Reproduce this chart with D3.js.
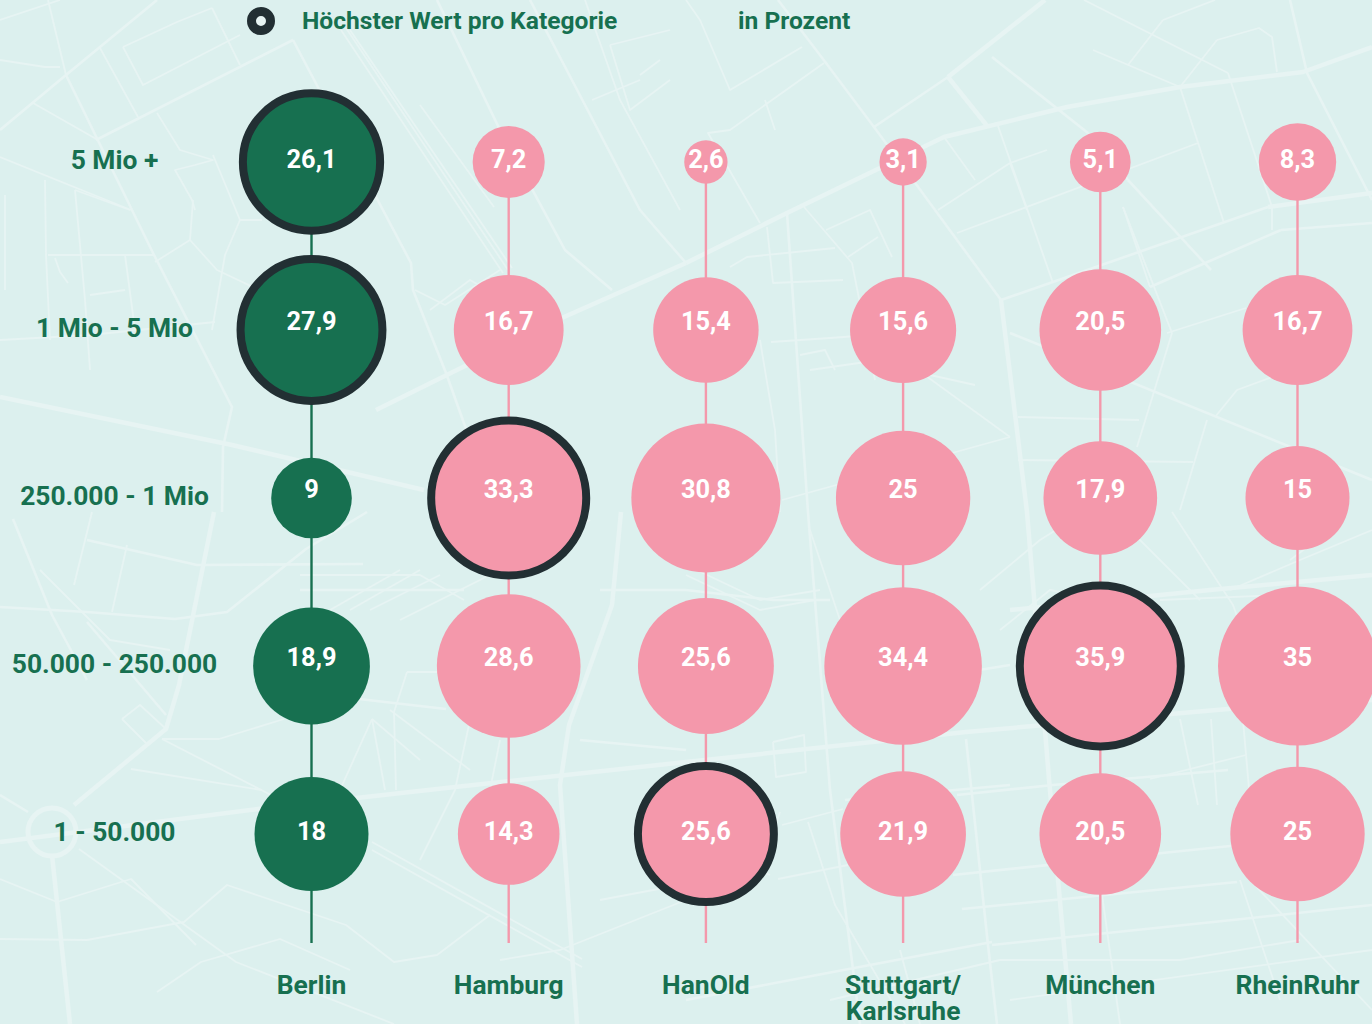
<!DOCTYPE html>
<html lang="de">
<head>
<meta charset="utf-8">
<script src="https://cdn.jsdelivr.net/npm/d3@7"></script>
<style>
html,body{margin:0;padding:0;background:#dcf0ee;overflow:hidden}
svg{display:block}
text{font-family:Roboto,sans-serif;font-weight:700}
</style>
</head>
<body>
<svg id="chart" width="1372" height="1024"></svg>
<script>
const rowLabels = ["5 Mio +","1 Mio - 5 Mio","250.000 - 1 Mio","50.000 - 250.000","1 - 50.000"];
const cities = ["Berlin","Hamburg","HanOld","Stuttgart/\nKarlsruhe","München","RheinRuhr"];
const berlin = [26.1,27.9,9,18.9,18];
const hamburg = [7.2,16.7,33.3,28.6,14.3];
const hanold = [2.6,15.4,30.8,25.6,25.6];
const stuttgart = [3.1,15.6,25,34.4,21.9];
const muenchen = [5.1,20.5,17.9,35.9,20.5];
const rheinruhr = [8.3,16.7,15,35,25];
const series = [berlin,hamburg,hanold,stuttgart,muenchen,rheinruhr];
const valueLabelOffset = [-3,-9,-9,-9,-3];

// decorative street map backdrop
const thickRoads = [
 [[0,397],[232,445],[424,490]],
 [[686,263],[787,213],[944,137],[1067,107],[1180,87],[1303,72],[1372,47]],
 [[948,77],[988,127]],[[1045,0],[948,77]],
 [[1001,300],[1027,512],[1049,779],[1071,1024]],
 [[0,842],[258,809],[437,789],[686,762],[966,732],[1228,709],[1372,700]],
 [[74,805],[166,729],[179,685],[214,512]],
 [[52,855],[70,1024]],
 [[577,1024],[560,785],[569,725],[612,605],[621,512]],
 [[1268,207],[1372,193]],
 [[686,263],[564,317],[376,410]],
 [[1010,610],[1210,590],[1372,575]]
];
const mediumRoads = [
 [[0,130],[66,75],[157,0]],
 [[66,75],[153,253],[232,407],[223,447],[222,512]],
 [[293,40],[96,140]],
 [[874,127],[948,77]],
 [[1001,300],[1268,207]],
 [[787,213],[808,512],[830,790],[860,1024]],
 [[1290,0],[1307,73],[1372,200]],
 [[855,690],[1010,665]],
 [[845,800],[1010,785]],
 [[293,40],[411,263],[413,290],[446,373],[470,440]],
 [[778,0],[826,63],[874,127],[913,180],[1001,300]],
 [[992,57],[1088,133]],[[1128,180],[1211,270]],[[1088,133],[1128,180]],
 [[437,0],[500,130],[565,250],[612,290]],
 [[530,0],[640,210],[686,263]],
 [[0,607],[87,612],[175,619],[227,612],[306,549],[367,512]],
 [[87,540],[197,565],[363,564]],
 [[1281,230],[1372,223]],[[1281,230],[1150,287]],
 [[1010,333],[1372,480]],
 [[966,739],[988,945],[997,1024]],
 [[957,795],[1053,785],[1228,770]],
 [[953,875],[1172,852],[1240,845]],
 [[962,909],[1237,882]],
 [[992,945],[1242,919],[1372,905]],
 [[817,975],[992,942]],
 [[686,1000],[817,975]],
 [[0,795],[28,812]],[[13,519],[52,615],[87,680]],
 [[87,622],[166,715]],
 [[359,699],[446,709]],[[580,740],[686,750]],
 [[300,590],[464,590]],[[686,590],[773,600],[830,600]],[[600,590],[686,590]]
];
const thinRoads = [
 [[48,0],[66,75]],[[0,157],[131,210]],[[0,60],[45,67],[60,67]],[[33,103],[98,140]],
 [[100,48],[138,117]],[[0,20],[60,0]],
 [[123,47],[177,22],[212,8]],[[123,47],[143,85],[240,35]],[[212,8],[240,65]],
 [[157,113],[180,150],[213,160],[195,165],[175,170],[192,200],[195,210]],
 [[213,155],[240,220],[262,220]],[[193,200],[190,240],[155,262]],
 [[190,240],[217,270],[270,295]],[[240,220],[225,255],[212,330]],
 [[45,180],[46,255],[50,340]],[[75,190],[85,300],[90,370]],[[48,255],[155,255]],
 [[125,255],[135,330]],[[90,295],[125,290]],[[0,340],[90,335],[215,322]],
 [[5,195],[5,290]],[[75,190],[130,210]],[[55,258],[60,272],[68,283]],
 [[420,105],[494,207]],[[341,30],[503,273]],[[346,28],[508,270]],
 [[350,30],[512,268]],
 [[500,270],[445,305],[415,290]],[[430,310],[470,280],[505,300]],
 [[585,0],[620,100],[680,210]],[[610,45],[670,30]],[[610,45],[630,110],[670,80]],
 [[592,100],[640,80]],[[640,75],[660,60]],
 [[802,47],[730,90],[700,20],[686,0]],[[824,63],[730,130],[708,133],[760,223]],
 [[765,100],[775,130]],
 [[957,233],[1198,143]],[[938,210],[1010,163],[1047,150]],
 [[997,123],[1053,283]],[[944,137],[975,180]],[[1027,210],[1010,163]],
 [[1180,87],[1224,223]],[[1228,73],[1272,207],[1272,230]],[[1084,0],[1228,73]],
 [[1163,20],[1215,0]],[[1163,20],[1128,65]],[[1093,50],[1180,87]],
 [[1217,40],[1180,87]],[[1217,40],[1259,28],[1272,37],[1277,72]],
 [[1309,70],[1372,47]],[[1150,287],[1123,207]],[[1172,333],[1137,447]],
 [[1123,207],[1172,333]],
 [[767,227],[773,283],[843,280]],[[730,267],[747,257],[835,248]],
 [[804,207],[852,263],[875,380]],[[826,230],[870,210],[892,257]],[[848,257],[878,237]],
 [[1167,333],[1246,308]],[[1018,417],[1139,420]],[[1018,460],[1193,462]],
 [[1207,420],[1180,510]],[[1215,417],[1237,390],[1272,377]],
 [[922,373],[1010,437]],[[782,500],[1010,437]],
 [[760,340],[775,430],[780,512]],[[771,342],[830,338],[870,335]],
 [[800,355],[825,350],[835,370]],[[810,370],[880,360],[930,375],[975,385]],
 [[92,512],[74,585]],[[127,545],[112,612]],[[122,719],[140,705],[166,729],[148,745],[122,719]],
 [[162,739],[219,739],[284,719]],[[162,739],[271,795]],[[131,769],[262,790]],
 [[407,672],[446,672]],[[407,672],[394,712],[396,790]],
 [[372,719],[340,790]],[[372,719],[385,790]],[[372,719],[420,760]],[[390,710],[470,770]],
 [[372,842],[582,959]],[[372,850],[582,967]],
 [[0,939],[87,940],[184,922],[227,885],[346,925],[394,962],[437,955],[490,915]],
 [[157,992],[201,962],[280,939],[350,970]],
 [[0,879],[57,902],[131,879],[196,945]],[[79,849],[236,962],[394,1024]],
 [[470,720],[455,790],[420,860]],[[500,740],[480,840]],[[400,620],[480,580],[590,520]],
 [[40,570],[110,640],[170,650]],[[500,960],[560,950],[686,900]],
 [[600,900],[760,870],[780,812]],[[686,840],[770,875]],
 [[778,879],[848,865]],[[782,825],[843,809]],[[808,822],[835,905],[905,1024]],
 [[773,742],[804,735],[806,772],[776,777],[773,742]],
 [[1180,719],[1198,805]],[[1211,719],[1217,805]],[[1242,709],[1250,800]],
 [[1150,779],[1246,755]],[[1172,512],[1233,605],[1260,680]],
 [[1000,630],[1050,590],[1100,600]],[[1230,590],[1300,560],[1372,530]],
 [[810,530],[840,620],[880,640]],[[980,590],[1040,540],[1080,515]],
 [[830,1000],[1000,960],[1180,960],[1300,940]],
 [[900,950],[920,1024]],[[1100,880],[1120,1024]],[[1240,880],[1280,1000]],
 [[1250,880],[1372,1010]],[[1010,1000],[1372,950]],
 [[300,575],[420,575],[464,600]],[[330,610],[400,570]],[[350,610],[420,570]],[[370,610],[440,575]],
 [[686,565],[760,600],[820,590]],[[686,575],[760,610],[815,600]],
 [[1130,530],[1200,600]],[[1290,560],[1330,530]],[[1160,600],[1280,595]]
];
const roundabouts = [[52,832,24]];

const W = 1372, H = 1024;
const svg = d3.select("#chart");
const bgColor = "#dcf0ee", roadColor = "#e7f4f3", green = "#177050", pink = "#f498ab", dark = "#222f33";

svg.append("rect").attr("width",W).attr("height",H).attr("fill",bgColor);

const road = d3.line();
const roadGroup = svg.append("g").attr("fill","none").attr("stroke",roadColor).attr("stroke-linejoin","round");
[[thinRoads,1.8],[mediumRoads,2.6],[thickRoads,4.5]].forEach(([set,w])=>{
  roadGroup.append("g").attr("stroke-width",w)
    .selectAll("path").data(set).join("path").attr("d",road);
});
roadGroup.append("g").attr("stroke-width",5).selectAll("circle").data(roundabouts).join("circle")
  .attr("cx",d=>d[0]).attr("cy",d=>d[1]).attr("r",d=>d[2]);

const x = d3.scalePoint().domain(d3.range(cities.length)).range([311.5,1297.5]);
const y = d3.scalePoint().domain(d3.range(rowLabels.length)).range([162,834]);
const r = d3.scaleSqrt().domain([0,36]).range([0,80.6]);
const lineEnd = y.range()[1] + 109;
const colorOf = i => i === 0 ? green : pink;
const rowMax = rowLabels.map((_,j)=>d3.max(series,s=>s[j]));

// legend
svg.append("circle").attr("cx",261).attr("cy",21).attr("r",9.5)
  .attr("fill",roadColor).attr("stroke",dark).attr("stroke-width",9);
svg.append("text").attr("x",302).attr("y",28.5).attr("font-size",24.6).attr("fill",green).text("Höchster Wert pro Kategorie");
svg.append("text").attr("x",738).attr("y",28.5).attr("font-size",24.6).attr("fill",green).text("in Prozent");

// row labels
svg.append("g").selectAll("text").data(rowLabels).join("text")
  .attr("x",114.5).attr("y",(d,j)=>y(j)+6.5)
  .attr("text-anchor","middle").attr("font-size",26.4).attr("fill",green).text(d=>d);

// columns
const col = svg.append("g").selectAll("g").data(series).join("g");
col.append("line")
  .attr("x1",(d,i)=>x(i)).attr("x2",(d,i)=>x(i))
  .attr("y1",y(0)).attr("y2",lineEnd)
  .attr("stroke-width",2.4).attr("stroke",(d,i)=>colorOf(i));
col.each(function(vals,i){
  const g = d3.select(this);
  g.selectAll("circle").data(vals).join("circle")
    .attr("cx",x(i)).attr("cy",(d,j)=>y(j)).attr("r",d=>r(d))
    .attr("fill",colorOf(i))
    .attr("stroke",(d,j)=> d===rowMax[j] ? dark : "none")
    .attr("stroke-width",8);
  g.selectAll("text.v").data(vals).join("text").attr("class","v")
    .attr("x",x(i)).attr("y",(d,j)=>y(j)+valueLabelOffset[j]+9)
    .attr("text-anchor","middle").attr("font-size",25.4).attr("fill","#fff")
    .text(d=>String(d).replace(".",","));
});

// column labels
const catG = svg.append("g").selectAll("text").data(cities).join("text")
  .attr("text-anchor","middle").attr("font-size",26.4).attr("fill",green);
catG.each(function(d,i){
  d3.select(this).selectAll("tspan").data(d.split("\n")).join("tspan")
    .attr("x",x(i)).attr("y",(t,k)=>994+k*26).text(t=>t);
});
</script>
</body>
</html>
